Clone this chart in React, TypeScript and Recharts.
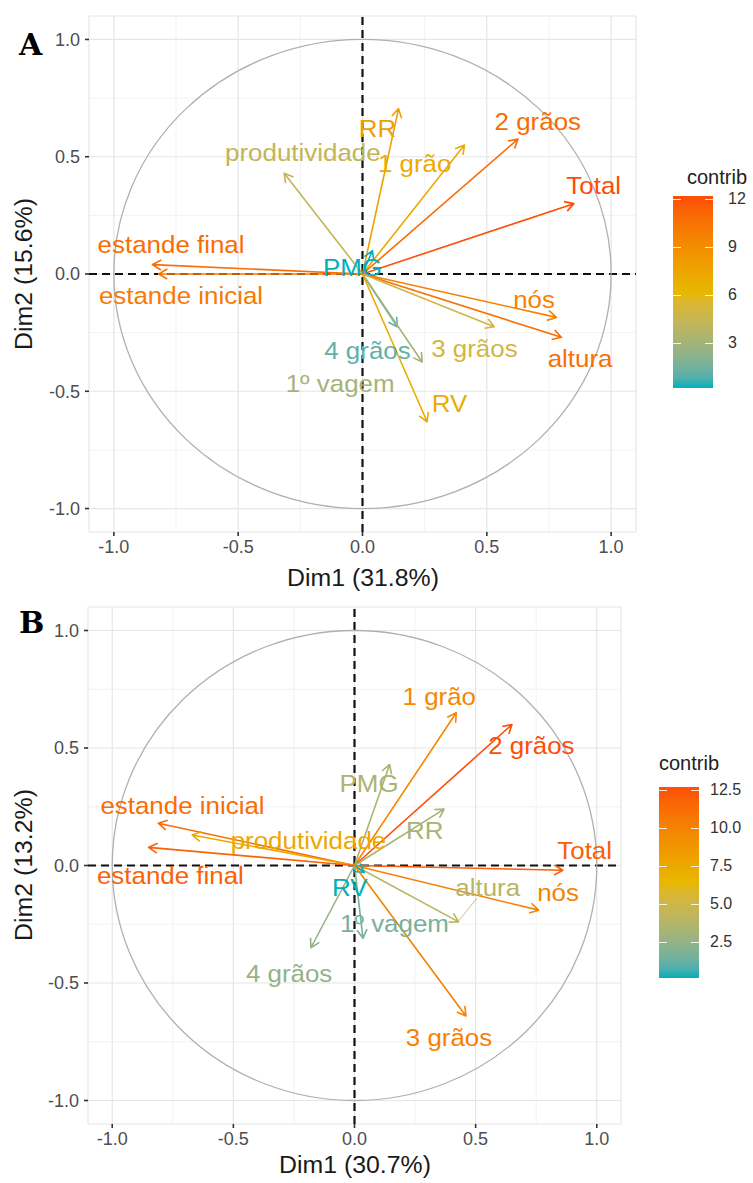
import React from 'react';
import { ScatterChart, Scatter, XAxis, YAxis, CartesianGrid, ReferenceLine } from 'recharts';

const FONT = '"Liberation Sans", Arial, Helvetica, sans-serif';
const GRADIENT = ['#00AFBB', '#E7B800', '#FC4E07'];
const TICKS = [-1, -0.5, 0, 0.5, 1];
const MINOR = [-0.75, -0.25, 0.25, 0.75];

// Panel A (Dim1 31.8%, Dim2 15.6%)
const namesA = ['RR', '1 grão', '2 grãos', 'Total', 'nós', 'altura', '3 grãos', '4 grãos', '1º vagem', 'RV', 'produtividade', 'estande final', 'estande inicial', 'PMG'];
const dim1A = [0.145, 0.41, 0.625, 0.85, 0.78, 0.8, 0.53, 0.14, 0.24, 0.26, -0.315, -0.845, -0.82, 0.04];
const dim2A = [0.705, 0.55, 0.575, 0.3, -0.185, -0.27, -0.225, -0.225, -0.375, -0.63, 0.43, 0.04, 0.0, 0.1];
const contribA = [7.8, 7.1, 10.9, 12.2, 9.7, 10.7, 5.0, 1.1, 3.0, 7.0, 4.3, 10.8, 10.1, 0.17];
const labelXA = [0.06, 0.21, 0.705, 0.93, 0.69, 0.875, 0.45, 0.02, -0.09, 0.35, -0.24, -0.77, -0.73, -0.04];
const labelYA = [0.62, 0.47, 0.65, 0.38, -0.11, -0.36, -0.315, -0.325, -0.465, -0.55, 0.52, 0.125, -0.09, 0.03];
const legendTicksA = [3, 6, 9, 12];

// Panel B (Dim1 30.7%, Dim2 13.2%)
const namesB = ['1 grão', '2 grãos', 'PMG', 'RR', 'Total', 'nós', 'altura', '1º vagem', 'RV', '3 grãos', '4 grãos', 'estande inicial', 'produtividade', 'estande final'];
const dim1B = [0.42, 0.65, 0.145, 0.37, 0.86, 0.76, 0.43, 0.035, 0.04, 0.46, -0.18, -0.81, -0.67, -0.85];
const dim2B = [0.65, 0.6, 0.43, 0.24, -0.02, -0.19, -0.24, -0.31, -0.03, -0.64, -0.35, 0.18, 0.13, 0.077];
const contribB = [9.7, 12.7, 3.35, 3.2, 12.0, 10.0, 3.95, 1.6, 0.11, 10.1, 2.5, 11.2, 7.6, 11.8];
const labelXB = [0.35, 0.73, 0.06, 0.29, 0.95, 0.84, 0.55, 0.165, -0.02, 0.39, -0.27, -0.71, -0.19, -0.76];
const labelYB = [0.72, 0.51, 0.35, 0.15, 0.065, -0.115, -0.095, -0.245, -0.095, -0.73, -0.46, 0.255, 0.105, -0.04];
const legendTicksB = [2.5, 5, 7.5, 10, 12.5];
// ggrepel segment from the "altura" label to its arrow
const segmentB = [{ x: 0.505, y: -0.14 }, { x: 0.43, y: -0.235 }];

// --- colour ramp in Lab, like ggplot's gradientn
const hexToRgb = (h: string) => [1, 3, 5].map((i) => parseInt(h.slice(i, i + 2), 16) / 255);
const lin = (c: number) => (c <= 0.04045 ? c / 12.92 : Math.pow((c + 0.055) / 1.055, 2.4));
const gam = (c: number) => (c <= 0.0031308 ? 12.92 * c : 1.055 * Math.pow(c, 1 / 2.4) - 0.055);
const WN = [0.95047, 1, 1.08883];
const f = (t: number) => (t > 0.008856 ? Math.cbrt(t) : 7.787 * t + 16 / 116);
const finv = (t: number) => (t * t * t > 0.008856 ? t * t * t : (t - 16 / 116) / 7.787);

function toLab(hex: string) {
  const [r, g, b] = hexToRgb(hex).map(lin);
  const X = (0.4124 * r + 0.3576 * g + 0.1805 * b) / WN[0];
  const Y = (0.2126 * r + 0.7152 * g + 0.0722 * b) / WN[1];
  const Z = (0.0193 * r + 0.1192 * g + 0.9505 * b) / WN[2];
  return [116 * f(Y) - 16, 500 * (f(X) - f(Y)), 200 * (f(Y) - f(Z))];
}

function fromLab([L, a, b]: number[]) {
  const fy = (L + 16) / 116;
  const X = WN[0] * finv(fy + a / 500);
  const Y = WN[1] * finv(fy);
  const Z = WN[2] * finv(fy - b / 200);
  const rgb = [
    3.2406 * X - 1.5372 * Y - 0.4986 * Z,
    -0.9689 * X + 1.8758 * Y + 0.0415 * Z,
    0.0557 * X - 0.204 * Y + 1.057 * Z,
  ].map((c) => Math.round(Math.min(1, Math.max(0, gam(c))) * 255));
  return `rgb(${rgb[0]},${rgb[1]},${rgb[2]})`;
}

const LABS = GRADIENT.map(toLab);

function contribColor(v: number, min: number, max: number) {
  const t = Math.min(1, Math.max(0, (v - min) / (max - min)));
  const s = t < 0.5 ? t * 2 : (t - 0.5) * 2;
  const [a, b] = t < 0.5 ? [LABS[0], LABS[1]] : [LABS[1], LABS[2]];
  return fromLab(a.map((c, i) => c + (b[i] - c) * s));
}

// --- custom renderers
const noShape = () => <g />;

const circleLine = (p: any) => {
  const [a, b] = p.points;
  return (
    <ellipse
      cx={(a.x + b.x) / 2}
      cy={(a.y + b.y) / 2}
      rx={Math.abs(b.x - a.x) / 2}
      ry={Math.abs(b.y - a.y) / 2}
      fill="none"
      stroke="#b0b0b0"
      strokeWidth={1.3}
    />
  );
};

const arrowLine = (color: string) => (p: any) => {
  const a = p.points[0];
  const b = p.points[p.points.length - 1];
  const ang = Math.atan2(b.y - a.y, b.x - a.x);
  const len = 10;
  const sp = Math.PI / 6;
  const h1x = b.x - len * Math.cos(ang - sp);
  const h1y = b.y - len * Math.sin(ang - sp);
  const h2x = b.x - len * Math.cos(ang + sp);
  const h2y = b.y - len * Math.sin(ang + sp);
  return (
    <path
      d={`M${a.x},${a.y}L${b.x},${b.y}M${h1x},${h1y}L${b.x},${b.y}L${h2x},${h2y}`}
      stroke={color}
      strokeWidth={1.6}
      fill="none"
      strokeLinejoin="round"
    />
  );
};

const thinLine = (color: string) => (p: any) => {
  const [a, b] = p.points;
  return <path d={`M${a.x},${a.y}L${b.x},${b.y}`} stroke={color} strokeWidth={0.8} fill="none" />;
};

const labelShape = (p: any) => (
  <text
    transform={`translate(${p.cx} ${p.cy}) scale(1.08 1)`}
    textAnchor="middle"
    dominantBaseline="central"
    fill={p.payload.color}
    fontSize={24}
    fontFamily={FONT}
  >
    {p.payload.name}
  </text>
);

const fmt = (v: number) => v.toFixed(1);
const tickStyle = { fill: '#4d4d4d', fontSize: 18, fontFamily: FONT };

function Panel(props: any) {
  const { names, dim1, dim2, contrib, labX, labY, height, margin, yWidth, segment } = props;
  const min = Math.min(...contrib);
  const max = Math.max(...contrib);
  const rows = names.map((name: string, i: number) => ({
    name,
    x: dim1[i],
    y: dim2[i],
    color: contribColor(contrib[i], min, max),
  }));
  const labels = rows.map((r: any, i: number) => ({ x: labX[i], y: labY[i], name: r.name, color: r.color }));
  const segColor = segment ? rows.find((r: any) => r.name === segment.name).color : '';

  return (
    <ScatterChart width={753} height={height} margin={margin}>
      <CartesianGrid stroke="#f1f1f1" strokeWidth={0.9} horizontalValues={MINOR} verticalValues={MINOR} />
      <CartesianGrid stroke="#e6e6e6" strokeWidth={1.2} />
      <XAxis
        type="number"
        dataKey="x"
        domain={[-1.1, 1.1]}
        allowDataOverflow
        ticks={TICKS}
        tickFormatter={fmt}
        height={30}
        axisLine={false}
        tickSize={4}
        tickMargin={4}
        tick={tickStyle}
        tickLine={{ stroke: '#333', strokeWidth: 1.6 }}
      />
      <YAxis
        type="number"
        dataKey="y"
        domain={[-1.1, 1.1]}
        allowDataOverflow
        ticks={TICKS}
        tickFormatter={fmt}
        width={yWidth}
        axisLine={false}
        tickSize={4}
        tickMargin={5}
        tick={tickStyle}
        tickLine={{ stroke: '#333', strokeWidth: 1.6 }}
      />
      <Scatter data={[{ x: -1, y: -1 }, { x: 1, y: 1 }]} line={circleLine} shape={noShape} isAnimationActive={false} />
      {rows.map((r: any) => (
        <Scatter
          key={r.name}
          data={[{ x: 0, y: 0 }, { x: r.x, y: r.y }]}
          line={arrowLine(r.color)}
          shape={noShape}
          isAnimationActive={false}
        />
      ))}
      {segment && (
        <Scatter data={segment.points} line={thinLine(segColor)} shape={noShape} isAnimationActive={false} />
      )}
      <Scatter data={labels} shape={labelShape} isAnimationActive={false} />
      <ReferenceLine x={0} stroke="#111" strokeDasharray="8 5" strokeWidth={2.2} />
      <ReferenceLine y={0} stroke="#111" strokeDasharray="8 5" strokeWidth={2.2} />
    </ScatterChart>
  );
}

function ColorBar(props: any) {
  const { contrib, ticks, barLeft, barTop, barHeight, titleLeft, titleTop, labelLeft, digits } = props;
  const min = Math.min(...contrib);
  const max = Math.max(...contrib);
  const stops = Array.from({ length: 21 }, (_, i) => {
    const v = min + ((max - min) * i) / 20;
    return `${contribColor(v, min, max)} ${i * 5}%`;
  }).join(', ');
  const yOf = (v: number) => ((max - v) / (max - min)) * barHeight;
  return (
    <>
      <div style={{ position: 'absolute', left: titleLeft, top: titleTop, fontSize: 20, fontFamily: FONT, color: '#222', lineHeight: '22px', whiteSpace: 'nowrap' }}>
        contrib
      </div>
      <div
        style={{
          position: 'absolute',
          left: barLeft,
          top: barTop,
          width: 40,
          height: barHeight,
          background: `linear-gradient(to top, ${stops})`,
        }}
      >
        {ticks.map((t: number) => (
          <React.Fragment key={t}>
            <div style={{ position: 'absolute', left: 0, top: yOf(t), width: 8, height: 1, background: 'rgba(255,255,255,0.85)' }} />
            <div style={{ position: 'absolute', right: 0, top: yOf(t), width: 8, height: 1, background: 'rgba(255,255,255,0.85)' }} />
          </React.Fragment>
        ))}
      </div>
      {ticks.map((t: number) => (
        <div
          key={t}
          style={{
            position: 'absolute',
            left: labelLeft,
            top: barTop + yOf(t) - 10,
            fontSize: 16,
            lineHeight: '20px',
            fontFamily: FONT,
            color: '#333',
          }}
        >
          {t.toFixed(digits)}
        </div>
      ))}
    </>
  );
}

const abs = (left: number, top: number, extra: any = {}) => ({ position: 'absolute' as const, left, top, ...extra });

export default function App() {
  return (
    <div style={{ position: 'absolute', left: 0, top: 0, width: 753, height: 1183, background: '#fff', overflow: 'hidden' }}>
      <div style={abs(0, 0)}>
        <Panel
          names={namesA}
          dim1={dim1A}
          dim2={dim2A}
          contrib={contribA}
          labX={labelXA}
          labY={labelYA}
          height={600}
          margin={{ top: 16, right: 117, bottom: 38, left: 0 }}
          yWidth={89}
        />
      </div>
      <div style={abs(0, 590)}>
        <Panel
          names={namesB}
          dim1={dim1B}
          dim2={dim2B}
          contrib={contribB}
          labX={labelXB}
          labY={labelYB}
          height={600}
          margin={{ top: 17, right: 132, bottom: 36, left: 0 }}
          yWidth={88}
          segment={{ name: 'altura', points: segmentB }}
        />
      </div>

      <div style={abs(19, 28, { fontFamily: '"DejaVu Serif", serif', fontWeight: 900, fontSize: 30, lineHeight: '34px' })}>A</div>
      <div style={abs(19, 606, { fontFamily: '"DejaVu Serif", serif', fontWeight: 900, fontSize: 30, lineHeight: '34px' })}>B</div>

      <div style={abs(363, 578, { transform: 'translate(-50%, -50%) scaleX(1.08)', fontFamily: FONT, fontSize: 23, color: '#1a1a1a', whiteSpace: 'nowrap' })}>
        Dim1 (31.8%)
      </div>
      <div style={abs(24, 274, { transform: 'translate(-50%, -50%) rotate(-90deg) scaleX(1.08)', fontFamily: FONT, fontSize: 23, color: '#1a1a1a', whiteSpace: 'nowrap' })}>
        Dim2 (15.6%)
      </div>
      <div style={abs(355, 1165, { transform: 'translate(-50%, -50%) scaleX(1.08)', fontFamily: FONT, fontSize: 23, color: '#1a1a1a', whiteSpace: 'nowrap' })}>
        Dim1 (30.7%)
      </div>
      <div style={abs(24, 865, { transform: 'translate(-50%, -50%) rotate(-90deg) scaleX(1.08)', fontFamily: FONT, fontSize: 23, color: '#1a1a1a', whiteSpace: 'nowrap' })}>
        Dim2 (13.2%)
      </div>

      <ColorBar contrib={contribA} ticks={legendTicksA} barLeft={673} barTop={196} barHeight={192} titleLeft={687} titleTop={166} labelLeft={728} digits={0} />
      <ColorBar contrib={contribB} ticks={legendTicksB} barLeft={659} barTop={787} barHeight={191} titleLeft={659} titleTop={752} labelLeft={710} digits={1} />
    </div>
  );
}
